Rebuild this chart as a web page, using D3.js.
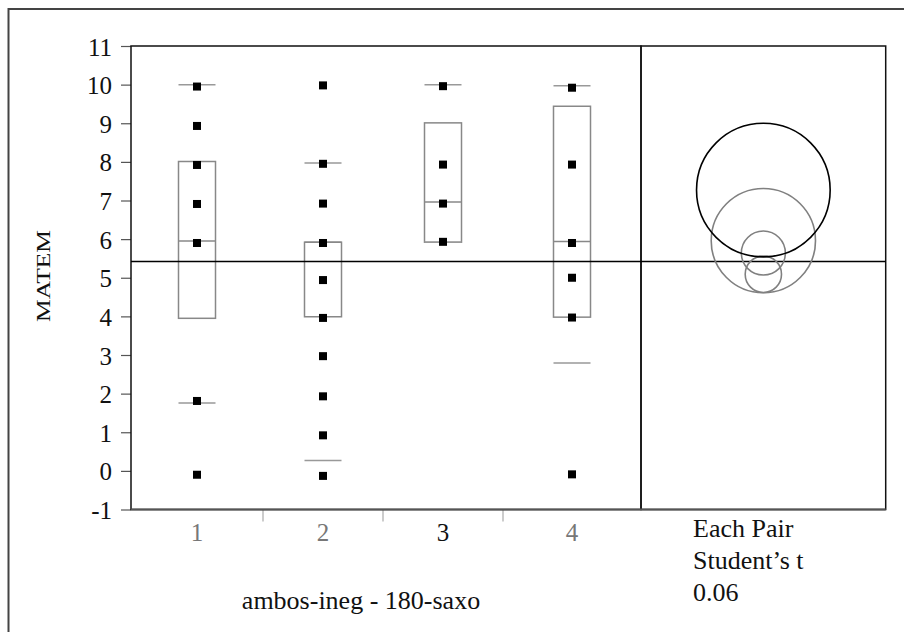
<!DOCTYPE html>
<html>
  <head>
    <meta charset="utf-8">
    <style>
      body { margin: 0; background-color: white; }
      text { font-family: "Liberation Serif", serif; }
    </style>
    <script src="https://d3js.org/d3.v7.min.js"></script>
  </head>
  <body>
    <script>
    var width = 904;
    var height = 632;

    // groups and their (estimated) sizes, used for the band widths
    var groups = ["1", "2", "3", "4"];
    var groupN = [22, 20, 20, 23];
    var selected = "3";

    var points1 = [9.95, 8.93, 7.92, 6.91, 5.9, 1.81, -0.1];
    var points2 = [9.98, 7.95, 6.92, 5.9, 4.94, 3.96, 2.97, 1.93, 0.92, -0.13];
    var points3 = [9.96, 7.93, 6.92, 5.93];
    var points4 = [9.92, 7.93, 5.9, 5.0, 3.97, -0.09];

    // quantile boxes: 10%, 25%, median, 75%, 90%
    var p10 = [1.76, 0.27, 5.92, 2.79];
    var q1 = [3.95, 3.99, 5.92, 3.98];
    var median = [5.95, 5.92, 6.96, 5.94];
    var q3 = [8.01, 5.92, 9.01, 9.44];
    var p90 = [10.0, 7.97, 10.0, 9.97];

    // comparison circles (Each Pair Student's t, alpha 0.06)
    var circleMean = [5.96, 5.09, 7.27, 5.64];
    var circleRadius = [1.35, 0.47, 1.73, 0.57];

    var grandMean = 5.42;
    var yTicks = [-1, 0, 1, 2, 3, 4, 5, 6, 7, 8, 9, 10, 11];
    var yTitle = "MATEM";
    var xTitle = "ambos-ineg - 180-saxo";
    var testLabel = ["Each Pair", "Student\u2019s t", "0.06"];

    var allPoints = [points1, points2, points3, points4];

    var plotLeft = 131, plotRight = 641, plotTop = 46, plotBottom = 509.5;
    var panelRight = 885.7;

    var yScale = d3.scaleLinear()
      .domain([-1, 11])
      .range([plotBottom, plotTop]);

    var cum = [0];
    groupN.forEach(function(n, i) { cum.push(cum[i] + n); });
    var xScale = d3.scaleLinear()
      .domain([0, cum[cum.length - 1]])
      .range([plotLeft, plotRight]);
    function center(i) { return xScale((cum[i] + cum[i + 1]) / 2); }

    var boxW = 37;
    var markSize = 8;
    var boxColor = "#888";
    var qColor = "#999";

    const svg = d3.select("body").append("svg")
      .attr("width", width)
      .attr("height", height);

    // outer frame (runs off the right and bottom of the page)
    svg.append("rect")
      .attr("x", 8.5).attr("y", 9)
      .attr("width", 1000).attr("height", 700)
      .attr("fill", "none")
      .attr("stroke", "#444")
      .attr("stroke-width", 2);

    // y axis
    var yAxis = d3.axisLeft(yScale)
      .tickValues(yTicks)
      .tickFormat((d) => String(d))
      .tickSize(10)
      .tickPadding(9);
    var gy = svg.append("g")
      .attr("transform", "translate(" + plotLeft + ",0)")
      .call(yAxis);
    gy.select(".domain").remove();
    gy.selectAll(".tick line").attr("stroke", "#555").attr("stroke-width", 1.2);
    gy.selectAll(".tick text")
      .attr("font-size", 25)
      .attr("fill", "#111")
      .attr("dy", "0.36em");

    svg.append("text")
      .attr("transform", "translate(50," + 276 + ") rotate(-90)")
      .attr("text-anchor", "middle")
      .attr("font-size", 18)
      .attr("textLength", 92)
      .attr("lengthAdjust", "spacingAndGlyphs")
      .attr("fill", "#111")
      .text(yTitle);

    // category separators under the axis
    svg.append("g")
      .selectAll("line")
      .data(cum.slice(1, cum.length - 1))
      .enter().append("line")
      .attr("x1", (d) => xScale(d)).attr("x2", (d) => xScale(d))
      .attr("y1", plotBottom).attr("y2", plotBottom + 12)
      .attr("stroke", "#aaa")
      .attr("stroke-width", 1.2);

    svg.append("g")
      .selectAll("text")
      .data(groups)
      .enter().append("text")
      .attr("x", (d, i) => center(i))
      .attr("y", 541)
      .attr("text-anchor", "middle")
      .attr("font-size", 25)
      .attr("fill", (d) => d == selected ? "#111" : "#777")
      .text((d) => d);

    svg.append("text")
      .attr("x", (plotLeft + plotRight) / 2 - 25)
      .attr("y", 609)
      .attr("text-anchor", "middle")
      .attr("font-size", 26)
      .attr("fill", "#111")
      .text(xTitle);

    // quantile boxes
    var box = svg.append("g").attr("class", "boxes")
      .selectAll("g")
      .data(groups)
      .enter().append("g");

    box.append("rect")
      .attr("x", (d, i) => center(i) - boxW / 2)
      .attr("y", (d, i) => yScale(q3[i]))
      .attr("width", boxW)
      .attr("height", (d, i) => yScale(q1[i]) - yScale(q3[i]))
      .attr("fill", "none")
      .attr("stroke", boxColor)
      .attr("stroke-width", 1.5);

    box.append("line")
      .attr("x1", (d, i) => center(i) - boxW / 2)
      .attr("x2", (d, i) => center(i) + boxW / 2)
      .attr("y1", (d, i) => yScale(median[i]))
      .attr("y2", (d, i) => yScale(median[i]))
      .attr("stroke", boxColor)
      .attr("stroke-width", 1.5);

    [p10, p90].forEach(function(q) {
      box.append("line")
        .attr("x1", (d, i) => center(i) - boxW / 2)
        .attr("x2", (d, i) => center(i) + boxW / 2)
        .attr("y1", (d, i) => yScale(q[i]))
        .attr("y2", (d, i) => yScale(q[i]))
        .attr("stroke", qColor)
        .attr("stroke-width", 1.5);
    });

    // points
    var pts = [];
    allPoints.forEach(function(arr, i) {
      arr.forEach(function(v) { pts.push({g: i, v: v}); });
    });
    svg.append("g").attr("class", "points")
      .selectAll("rect")
      .data(pts)
      .enter().append("rect")
      .attr("x", (d) => center(d.g) - markSize / 2)
      .attr("y", (d) => yScale(d.v) - markSize / 2)
      .attr("width", markSize)
      .attr("height", markSize)
      .attr("fill", "black");

    // frames
    svg.append("rect")
      .attr("x", plotLeft).attr("y", plotTop)
      .attr("width", plotRight - plotLeft).attr("height", plotBottom - plotTop)
      .attr("fill", "none").attr("stroke", "#111").attr("stroke-width", 1.5);
    svg.append("rect")
      .attr("x", plotRight).attr("y", plotTop)
      .attr("width", panelRight - plotRight).attr("height", plotBottom - plotTop)
      .attr("fill", "none").attr("stroke", "#111").attr("stroke-width", 1.5);
    svg.append("line")
      .attr("x1", plotLeft).attr("x2", panelRight)
      .attr("y1", plotBottom).attr("y2", plotBottom)
      .attr("stroke", "#555").attr("stroke-width", 2);

    // grand mean
    svg.append("line")
      .attr("x1", plotLeft).attr("x2", panelRight)
      .attr("y1", yScale(grandMean)).attr("y2", yScale(grandMean))
      .attr("stroke", "black").attr("stroke-width", 1.5);

    // comparison circles
    var unit = yScale(0) - yScale(1);
    var cx = (plotRight + panelRight) / 2;
    var order = groups.map((d, i) => i).sort(function(a, b) {
      return (groups[a] == selected) - (groups[b] == selected);
    });
    svg.append("g").attr("class", "circles")
      .selectAll("circle")
      .data(order)
      .enter().append("circle")
      .attr("cx", cx)
      .attr("cy", (i) => yScale(circleMean[i]))
      .attr("r", (i) => circleRadius[i] * unit)
      .attr("fill", "none")
      .attr("stroke", (i) => groups[i] == selected ? "black" : "#808080")
      .attr("stroke-width", 1.6);

    svg.append("g")
      .selectAll("text")
      .data(testLabel)
      .enter().append("text")
      .attr("x", 693)
      .attr("y", (d, i) => 537 + i * 32)
      .attr("font-size", 26)
      .attr("fill", "#111")
      .text((d) => d);
    </script>
  </body>
</html>
